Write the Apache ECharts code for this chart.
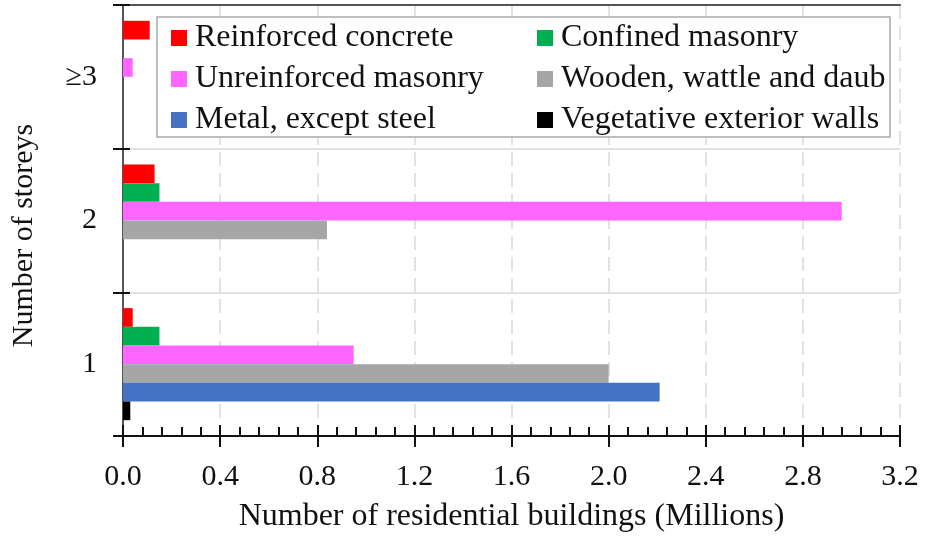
<!DOCTYPE html>
<html>
<head>
<meta charset="utf-8">
<script src="https://cdn.jsdelivr.net/npm/echarts@6/dist/echarts.min.js"></script>
<style>
  html, body { margin: 0; padding: 0; background: #fff; }
  #chart { width: 927px; height: 538px; }
</style>
</head>
<body>
<div id="chart"></div>
<script>
// Storey classes (bottom to top on the category axis)
const storeys = ['1', '2', '≥3'];

// Residential buildings per construction type, in millions
const reinforcedConcrete = [0.04, 0.13, 0.11];
const confinedMasonry = [0.15, 0.15, 0];
const unreinforcedMasonry = [0.95, 2.96, 0.04];
const woodenWattleDaub = [2.0, 0.84, 0];
const metalExceptSteel = [2.21, 0, 0];
const vegetativeWalls = [0.03, 0, 0];

const seriesNames = [
  'Reinforced concrete', 'Confined masonry', 'Unreinforced masonry',
  'Wooden, wattle and daub', 'Metal, except steel', 'Vegetative exterior walls'
];
const seriesValues = [
  reinforcedConcrete, confinedMasonry, unreinforcedMasonry,
  woodenWattleDaub, metalExceptSteel, vegetativeWalls
];
const seriesColors = ['#ff0000', '#00b050', '#ff66ff', '#a6a6a6', '#4472c4', '#000000'];

const FONT = '"Liberation Serif", "Times New Roman", serif';
const FS = 30;

const chart = echarts.init(document.getElementById('chart'), null, { renderer: 'canvas' });

const legendText = { fontFamily: FONT, fontSize: 32, color: '#111', lineHeight: 30, padding: [0, 0, 0, 3] };
const frameLine = { show: true, lineStyle: { color: '#555', width: 2 } };

const legendBase = {
  z: 6, orient: 'vertical', top: 22, padding: 0, itemGap: 9,
  itemWidth: 16, itemHeight: 16, icon: 'rect', textStyle: legendText
};

chart.setOption({
  animation: false,
  backgroundColor: '#fff',
  textStyle: { fontFamily: FONT },
  grid: { left: 123, right: 27, top: 5, bottom: 99 },
  graphic: [{
    type: 'rect', z: 5,
    shape: { x: 157, y: 17, width: 733, height: 120 },
    style: { fill: '#fff', stroke: '#aaaaaa', lineWidth: 1.5 }
  }],
  legend: [
    Object.assign({ left: 171, data: [seriesNames[0], seriesNames[2], seriesNames[4]] }, legendBase),
    Object.assign({ left: 537, data: [seriesNames[1], seriesNames[3], seriesNames[5]] }, legendBase)
  ],
  xAxis: [
    {
      type: 'value', min: 0, max: 3.2, interval: 0.4,
      name: 'Number of residential buildings (Millions)',
      nameLocation: 'middle', nameGap: 65,
      nameTextStyle: { fontFamily: FONT, fontSize: 32, color: '#111' },
      axisLine: { show: true, lineStyle: { color: '#111', width: 2 } },
      axisTick: { show: true, inside: true, length: 11, lineStyle: { color: '#111', width: 2 } },
      minorTick: { show: true, splitNumber: 5, length: 9, lineStyle: { color: '#111', width: 2 } },
      axisLabel: {
        fontFamily: FONT, fontSize: FS, color: '#111', margin: 26,
        formatter: v => v.toFixed(1)
      },
      splitLine: { show: true, lineStyle: { color: '#d9d9d9', width: 1.5, type: [14, 7] } }
    },
    {
      type: 'value', min: 0, max: 3.2, interval: 0.4, position: 'bottom',
      axisLine: { show: false },
      axisTick: { show: true, inside: false, length: 11, lineStyle: { color: '#111', width: 2 } },
      axisLabel: { show: false },
      splitLine: { show: false }
    },
    {
      // top frame edge
      type: 'value', min: 0, max: 3.2, interval: 0.4, position: 'top',
      axisLine: frameLine, axisTick: { show: false }, axisLabel: { show: false },
      splitLine: { show: false }
    }
  ],
  yAxis: [
    {
      type: 'category', data: storeys,
      name: 'Number of storeys', nameLocation: 'middle', nameGap: 84, nameRotate: 90,
      nameTextStyle: { fontFamily: FONT, fontSize: FS, color: '#111', padding: [0, 30, 0, 0] },
      axisLine: { show: true, lineStyle: { color: '#111', width: 2 } },
      axisTick: { show: true, inside: true, length: 7, lineStyle: { color: '#111', width: 2 } },
      axisLabel: { fontFamily: FONT, fontSize: FS, color: '#111', margin: 26 },
      splitLine: { show: true, lineStyle: { color: '#d9d9d9', width: 1.5 } }
    },
    {
      type: 'category', data: storeys, position: 'left',
      axisLine: { show: false },
      axisTick: { show: true, inside: false, length: 10, lineStyle: { color: '#111', width: 2 } },
      axisLabel: { show: false },
      splitLine: { show: false }
    },
    {
      // right frame edge
      type: 'category', data: storeys, position: 'right',
      axisLine: frameLine, axisTick: { show: false }, axisLabel: { show: false },
      splitLine: { show: false }
    }
  ],
  series: seriesNames.map((name, i) => ({
    name, type: 'bar', xAxisIndex: 0, yAxisIndex: 0,
    data: seriesValues[i],
    itemStyle: { color: seriesColors[i] },
    barGap: '0%', barCategoryGap: '22%'
  }))
});
</script>
</body>
</html>
